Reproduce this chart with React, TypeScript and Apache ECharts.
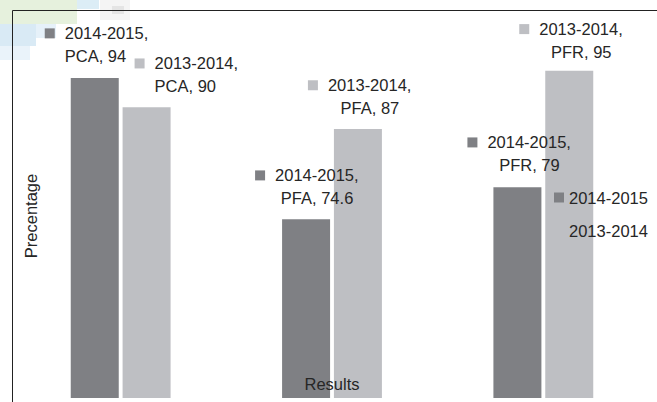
import React, { useEffect, useRef } from "react";
import * as echarts from "echarts";

const categories = ["PCA", "PFA", "PFR"];
const seriesNames = ["2014-2015", "2013-2014"];
const values2014 = [94, 74.6, 79];
const values2013 = [90, 87, 95];
const yMin = 50;
const yMax = 100;
const xTitle = "Results";
const yTitle = "Precentage";

const colors = ["#7f8084", "#bebfc3"];
const textColor = "#262626";
const FONT = "Liberation Sans, Arial, sans-serif";
const FS = 16.5;
const LH = 22.5;

// label placement (offset from the bar's top-left corner) and line alignment
const labelOffsets2014 = [[-26, -56], [-27, -55], [-26, -56]];
const labelOffsets2013 = [[12, -55], [-26, -55], [-26, -53]];
const lineAlign2014 = ["left", "center", "center"];
const lineAlign2013 = ["left", "center", "center"];

function makeRich(color: string) {
  const t = { fontSize: FS, lineHeight: LH, color: textColor, fontFamily: FONT };
  return {
    sq: { width: 10, height: 10, backgroundColor: color, lineHeight: LH, fontSize: 1 },
    g: { width: 10, lineHeight: LH, fontSize: FS },
    ind: { width: 20, lineHeight: LH, fontSize: FS },
    t: { ...t },
    tc: { ...t, width: 84, align: "center" },
    tl: { ...t, width: 84, align: "left" },
  };
}

function buildData(values: number[], offsets: number[][], aligns: string[], color: string) {
  return values.map((v, i) => ({
    value: v,
    label: {
      show: true,
      position: offsets[i],
      align: "left",
      verticalAlign: "top",
      formatter: (p: any) =>
        `{sq| }{g| }{t|${p.seriesName},}\n{ind| }{${aligns[i] === "left" ? "tl" : "tc"}|${p.name}, ${p.value}}`,
      rich: makeRich(color),
    },
  }));
}

export default function App() {
  const ref = useRef<HTMLDivElement>(null);
  useEffect(() => {
    if (!ref.current) return;
    const chart = echarts.init(ref.current, null, { renderer: "svg" });
    chart.setOption({
      animation: false,
      backgroundColor: "#ffffff",
      textStyle: { fontFamily: FONT },
      grid: { left: 15, right: 8, top: 34.5, bottom: 4, containLabel: false },
      legend: {
        data: seriesNames,
        orient: "vertical",
        left: 554,
        top: 189,
        padding: 0,
        itemWidth: 10,
        itemHeight: 10,
        itemGap: 16,
        icon: "rect",
        textStyle: { fontSize: FS, color: textColor, fontFamily: FONT },
        selectedMode: false,
      },
      xAxis: {
        type: "category",
        data: categories,
        axisLine: { show: false },
        axisTick: { show: false },
        axisLabel: { show: false },
      },
      yAxis: {
        type: "value",
        min: yMin,
        max: yMax,
        axisLine: { show: false },
        axisTick: { show: false },
        axisLabel: { show: false },
        splitLine: { show: false },
      },
      series: [
        {
          name: seriesNames[0],
          type: "bar",
          barWidth: 48,
          barGap: "8%",
          itemStyle: { color: colors[0] },
          data: buildData(values2014, labelOffsets2014, lineAlign2014, colors[0]),
        },
        {
          name: seriesNames[1],
          type: "bar",
          barWidth: 48,
          barGap: "8%",
          itemStyle: { color: colors[1] },
          data: buildData(values2013, labelOffsets2013, lineAlign2013, colors[1]),
        },
      ],
      graphic: [
        { type: "rect", shape: { x: 0, y: 0, width: 77, height: 24 }, style: { fill: "#e6f1dd" }, z: -10, silent: true },
        { type: "rect", shape: { x: 77, y: 0, width: 22, height: 9 }, style: { fill: "#dcedf6" }, z: -10, silent: true },
        { type: "rect", shape: { x: 0, y: 24, width: 36, height: 22 }, style: { fill: "#d9eaf5" }, z: -10, silent: true },
        { type: "rect", shape: { x: 36, y: 24, width: 20, height: 14 }, style: { fill: "#e6f1f9" }, z: -10, silent: true },
        { type: "rect", shape: { x: 0, y: 46, width: 30, height: 14 }, style: { fill: "#eaf3fa" }, z: -10, silent: true },
        { type: "rect", shape: { x: 100, y: 0, width: 30, height: 20 }, style: { fill: "#f4f4f4" }, z: -10, silent: true },
        { type: "rect", shape: { x: 112, y: 6, width: 12, height: 8 }, style: { fill: "#e4e4e4" }, z: -10, silent: true },
        { type: "line", shape: { x1: 12.5, y1: 10.5, x2: 657, y2: 10.5 }, style: { stroke: "#222", lineWidth: 1 }, silent: true },
        { type: "line", shape: { x1: 12.5, y1: 10.5, x2: 12.5, y2: 402 }, style: { stroke: "#222", lineWidth: 1 }, silent: true },
        {
          type: "text", x: 332, y: 384, z: 100, silent: true,
          style: { text: xTitle, fontSize: FS, fill: textColor, fontFamily: FONT, align: "center", verticalAlign: "middle" },
        },
        {
          type: "text", x: 31, y: 216, rotation: Math.PI / 2, z: 100, silent: true,
          style: { text: yTitle, fontSize: FS, fill: textColor, fontFamily: FONT, align: "center", verticalAlign: "middle" },
        },
      ],
    });
    return () => chart.dispose();
  }, []);
  return <div ref={ref} style={{ width: 657, height: 402, position: "absolute", left: 0, top: 0 }} />;
}
